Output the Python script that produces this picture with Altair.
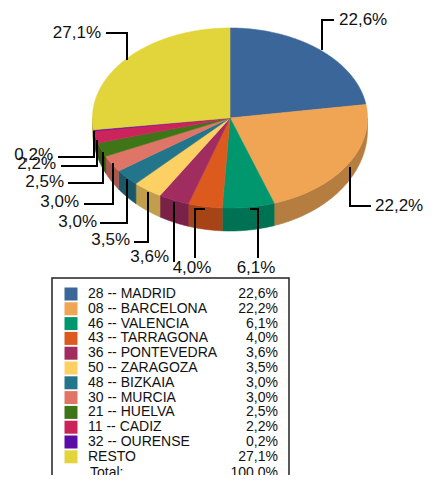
import numpy as np
import pandas as pd
import altair as alt

# ---------------- data ----------------
PROVINCES = ["28 -- MADRID", "08 -- BARCELONA", "46 -- VALENCIA", "43 -- TARRAGONA",
             "36 -- PONTEVEDRA", "50 -- ZARAGOZA", "48 -- BIZKAIA", "30 -- MURCIA",
             "21 -- HUELVA", "11 -- CADIZ", "32 -- OURENSE", "RESTO"]
SHARES = [22.6, 22.2, 6.1, 4.0, 3.6, 3.5, 3.0, 3.0, 2.5, 2.2, 0.2, 27.1]
TOTAL_TEXT = "Total:"

# ---------------- style ----------------
COLORS = ["#3a6699", "#efa553", "#00976f", "#dd5a1f", "#a12c60", "#fdd063",
          "#23758b", "#de7566", "#3e7517", "#cb245b", "#5b0ca6", "#e2d53b"]
FONT = "Liberation Sans"
CX, CY, RX, RY = 230.0, 118.0, 137.5, 90.0   # pie layout (page px)

# leader-line layout for each slice: polyline points and label anchor/align
LEADERS = [
    ([(322, 50), (322, 20), (334, 20)], (339, 20, "left")),
    ([(350, 167), (350, 206), (371, 206)], (375, 206, "left")),
    ([(250, 209), (258, 209), (258, 258)], (256, 268, "center")),
    ([(205, 209), (195, 209), (195, 258)], (192, 268, "center")),
    ([(174, 202), (174, 262)], (169, 257, "right")),
    ([(148, 192), (148, 242), (134, 242)], (130, 240, "right")),
    ([(127, 179), (127, 223), (100, 223)], (97, 222, "right")),
    ([(113, 163), (113, 204), (84, 204)], (79, 202, "right")),
    ([(103, 152), (103, 183), (68, 183)], (64, 182, "right")),
    ([(97, 140), (97, 166), (61, 166)], (56, 164, "right")),
    ([(94, 131), (94, 157), (58, 157)], (53, 155, "right")),
    ([(127, 60), (127, 33), (106, 33)], (101, 33, "right")),
]


def fmt(v):
    return f"{v:.1f}".replace(".", ",") + "%"


def darker(hexcol, f=0.76):
    h = hexcol.lstrip("#")
    r, g, b = (int(h[i:i + 2], 16) for i in (0, 2, 4))
    return "#%02x%02x%02x" % (int(r * f), int(g * f), int(b * f))


def depth(theta_deg):
    return 12 + 11 * max(0.0, -np.cos(np.radians(theta_deg)))


def pt(theta_deg, dy=0.0):
    t = np.radians(theta_deg)
    return CX + RX * np.sin(t), CY - RY * np.cos(t) + dy


# ---------------- pie polygons (from SHARES) ----------------
total = sum(SHARES)
sides, tops = [], []
start = 0.0
for i, (name, v, col) in enumerate(zip(PROVINCES, SHARES, COLORS)):
    a0 = start
    a1 = start + v / total * 360.0
    start = a1
    n = max(3, int((a1 - a0) / 0.5) + 2)
    # top face
    poly = [(CX, CY)] + [pt(t) for t in np.linspace(a0, a1, n)]
    for k, (x, y) in enumerate(poly):
        tops.append({"poly": f"t{i}", "k": k, "x": x, "y": y, "col": col})
    # side wall (front half only)
    s0, s1 = max(a0, 90.0), min(a1, 270.0)
    if s1 > s0:
        m = max(3, int((s1 - s0) / 0.5) + 2)
        ts = np.linspace(s0, s1, m)
        poly = [pt(t) for t in ts] + [pt(t, depth(t)) for t in ts[::-1]]
        for k, (x, y) in enumerate(poly):
            sides.append({"poly": f"s{i}", "k": k, "x": x, "y": y, "col": darker(col)})

tops_df = pd.DataFrame(tops)
sides_df = pd.DataFrame(sides)

# leader lines and labels
lead_rows, lab_rows = [], []
for i, (pts, (lx, ly, al)) in enumerate(LEADERS):
    for k, (x, y) in enumerate(pts):
        lead_rows.append({"poly": f"l{i}", "k": k, "x": x, "y": y})
    lab_rows.append({"x": lx, "y": ly, "align": al, "text": fmt(SHARES[i])})
lead_df = pd.DataFrame(lead_rows)
lab_df = pd.DataFrame(lab_rows)

# legend table
LEG_Y0, LEG_STEP = 294.0, 14.8
leg_df = pd.DataFrame({
    "name": PROVINCES,
    "pct": [fmt(v) for v in SHARES],
    "col": COLORS,
    "y": [LEG_Y0 + i * LEG_STEP for i in range(len(PROVINCES))],
})
leg_df["xs"] = 71
leg_df["xn"] = 88
leg_df["xp"] = 278
tot_df = pd.DataFrame({"name": [TOTAL_TEXT], "pct": [fmt(total)],
                       "y": [LEG_Y0 + (len(PROVINCES) - 1) * LEG_STEP + 16],
                       "xn": [90], "xp": [278]})
box_df = pd.DataFrame({"x": [52], "x2": [289], "y": [278], "y2": [500]})

# ---------------- chart ----------------
xs = alt.Scale(domain=[8, 424], nice=False, zero=False)
ys = alt.Scale(domain=[8, 475], nice=False, zero=False, reverse=True)


def X(f):
    return alt.X(f"{f}:Q", scale=xs, axis=None)


def Y(f):
    return alt.Y(f"{f}:Q", scale=ys, axis=None)


def poly_layer(df):
    return alt.Chart(df).mark_line(interpolate="linear-closed", strokeWidth=0.6).encode(
        x=X("x"), y=Y("y"),
        fill=alt.Fill("col:N", scale=None),
        stroke=alt.Stroke("col:N", scale=None),
        detail="poly:N",
        order=alt.Order("k:Q"),
    )


side_layer = poly_layer(sides_df)
top_layer = poly_layer(tops_df)

lead_layer = alt.Chart(lead_df).mark_line(color="#000000", strokeWidth=2).encode(
    x=X("x"), y=Y("y"), detail="poly:N", order=alt.Order("k:Q"))

label_layers = []
for al in ["left", "center", "right"]:
    label_layers.append(
        alt.Chart(lab_df).transform_filter(alt.datum.align == al)
        .mark_text(align=al, baseline="middle", font=FONT, fontSize=17, color="#111111")
        .encode(x=X("x"), y=Y("y"), text="text:N"))

box_layer = alt.Chart(box_df).mark_rect(fill="#ffffff", stroke="#222222",
                                        strokeWidth=1.5, clip=True).encode(
    x=X("x"), x2="x2:Q", y=Y("y"), y2="y2:Q")

sw_layer = alt.Chart(leg_df).mark_square(size=169, opacity=1).encode(
    x=X("xs"), y=Y("y"), fill=alt.Fill("col:N", scale=None))

name_layer = alt.Chart(leg_df).mark_text(align="left", baseline="middle", font=FONT,
                                         fontSize=14, color="#111111").encode(
    x=X("xn"), y=Y("y"), text="name:N")
pct_layer = alt.Chart(leg_df).mark_text(align="right", baseline="middle", font=FONT,
                                        fontSize=14, color="#111111").encode(
    x=X("xp"), y=Y("y"), text="pct:N")
tot_name = alt.Chart(tot_df).mark_text(align="left", baseline="middle", font=FONT,
                                       fontSize=14, color="#111111", clip=True).encode(
    x=X("xn"), y=Y("y"), text="name:N")
tot_pct = alt.Chart(tot_df).mark_text(align="right", baseline="middle", font=FONT,
                                      fontSize=14, color="#111111", clip=True).encode(
    x=X("xp"), y=Y("y"), text="pct:N")

chart = alt.layer(
    side_layer, top_layer, lead_layer, *label_layers,
    box_layer, sw_layer, name_layer, pct_layer, tot_name, tot_pct,
).properties(
    width=416, height=467, padding=0, autosize=alt.AutoSizeParams(type="none"),
    background="#ffffff",
).configure_view(strokeWidth=0)

chart.save("out.html", embed_options={"renderer": "svg", "actions": False})
